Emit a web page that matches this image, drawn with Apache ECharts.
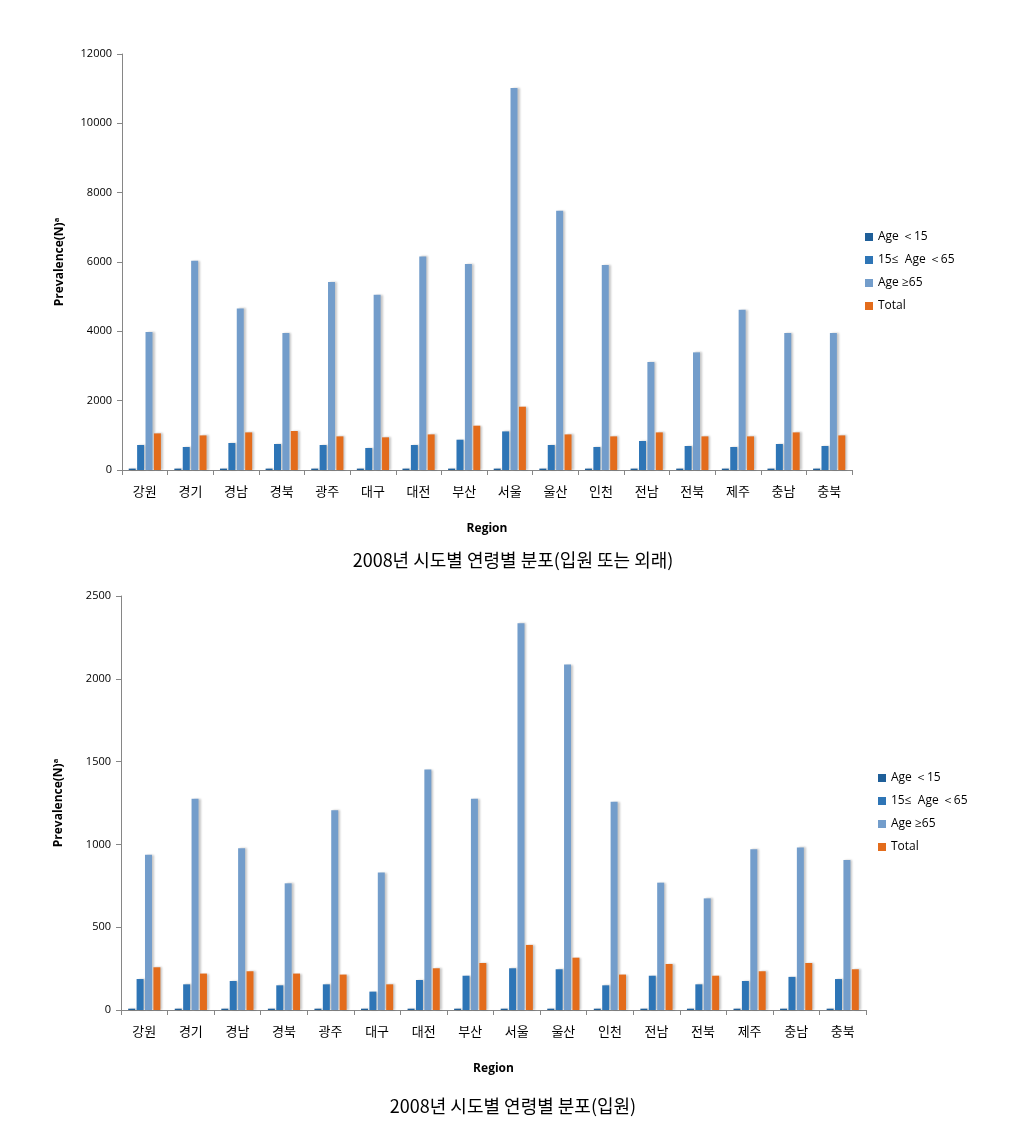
<!DOCTYPE html>
<html>
<head>
<meta charset="utf-8">
<script src="https://cdn.jsdelivr.net/npm/echarts@6/dist/echarts.min.js"></script>
<style>
html,body{margin:0;padding:0;background:#fff;}
#c{width:1011px;height:1138px;}
</style>
</head>
<body>
<div id="c"></div>
<script>
const regions = ['강원','경기','경남','경북','광주','대구','대전','부산','서울','울산','인천','전남','전북','제주','충남','충북'];
const seriesNames = ['Age ＜15','15≤  Age ＜65','Age ≥65','Total'];

// Chart 1: 입원 또는 외래
const top_under15 = [40,40,40,40,40,40,40,40,40,40,40,40,40,40,40,40];
const top_15to65 = [721,663,779,750,721,635,721,874,1113,721,663,837,692,663,750,692];
const top_over65 = [3980,6037,4662,3952,5423,5056,6161,5942,11018,7479,5913,3115,3393,4624,3952,3952];
const top_total = [1056,998,1085,1125,970,942,1027,1278,1826,1027,970,1085,970,970,1085,998];
const topYTicks = {min:0, max:12000, interval:2000};

// Chart 2: 입원
const bot_under15 = [8,8,8,8,8,8,8,8,8,8,8,8,8,8,8,8];
const bot_15to65 = [187,155,175,149,155,111,181,207,252,246,149,207,155,175,200,187];
const bot_over65 = [938,1276,976,765,1206,830,1452,1276,2335,2086,1258,769,674,970,982,906];
const bot_total = [258,220,234,220,214,155,252,284,393,316,214,278,207,234,284,246];
const botYTicks = {min:0, max:2500, interval:500};

const titles = ['2008년 시도별 연령별 분포(입원 또는 외래)','2008년 시도별 연령별 분포(입원)'];
const colors = ['#1f5f99','#2e75b6','#739dcb','#e36c1c'];

const axisGray = '#868686';
const korFont = '"Noto Sans CJK KR", sans-serif';
const latFont = '"Open Sans", "Liberation Sans", sans-serif';

function xAx(gi){
  return {
    type:'category', gridIndex:gi, data:regions,
    name:'Region', nameLocation:'middle', nameGap: 53,
    nameTextStyle:{fontFamily:latFont, fontWeight:'bold', fontSize:12, color:'#000'},
    axisLine:{lineStyle:{color:axisGray}},
    axisTick:{show:true, alignWithLabel:false, length:5, lineStyle:{color:axisGray}},
    axisLabel:{fontFamily:korFont, fontSize:13, color:'#000', margin:15}
  };
}
function yAx(gi, t){
  return {
    type:'value', gridIndex:gi, min:t.min, max:t.max, interval:t.interval,
    name:'Prevalence(N)ª', nameLocation:'middle', nameGap: 56,
    nameTextStyle:{fontFamily:latFont, fontWeight:'bold', fontSize:12, color:'#000'},
    axisLine:{show:true, lineStyle:{color:axisGray}},
    axisTick:{show:true, length:5, lineStyle:{color:axisGray}},
    splitLine:{show:false},
    axisLabel:{fontFamily:latFont, fontSize:11, color:'#000', margin:10, formatter:(v)=>String(v)}
  };
}
function mk(name, data, gi, color){
  return {
    name:name, type:'bar', xAxisIndex:gi, yAxisIndex:gi, data:data,
    barWidth:7, barGap:'20%',
    itemStyle:{color:color, shadowColor:'rgba(0,0,0,0.22)', shadowBlur:2, shadowOffsetX:2, shadowOffsetY:0},
    emphasis:{disabled:true}
  };
}
const topData = [top_under15, top_15to65, top_over65, top_total];
const botData = [bot_under15, bot_15to65, bot_over65, bot_total];
const series = [];
seriesNames.forEach((n,i)=>series.push(mk(n, topData[i], 0, colors[i])));
seriesNames.forEach((n,i)=>series.push(mk(n, botData[i], 1, colors[i])));

const chart = echarts.init(document.getElementById('c'), null, {renderer:'canvas'});
chart.setOption({
  animation:false,
  color:colors,
  title:[
    {text:titles[0], left:508, top:546, textAlign:'center', textStyle:{fontFamily:korFont, fontWeight:'normal', fontSize:18, color:'#000'}},
    {text:titles[1], left:508, top:1092, textAlign:'center', textStyle:{fontFamily:korFont, fontWeight:'normal', fontSize:18, color:'#000'}}
  ],
  grid:[
    {left:122, width:730, top:54, height:416},
    {left:121, width:745, top:596, height:414}
  ],
  xAxis:[xAx(0), xAx(1)],
  yAxis:[yAx(0, topYTicks), yAx(1, botYTicks)],
  legend:[
    {data:seriesNames, orient:'vertical', left:860, top:226, itemWidth:8, itemHeight:8, itemGap:11, icon:'rect',
     textStyle:{fontFamily:latFont, fontSize:12, color:'#000'}, selectedMode:false},
    {data:seriesNames, orient:'vertical', left:873, top:767, itemWidth:8, itemHeight:8, itemGap:11, icon:'rect',
     textStyle:{fontFamily:latFont, fontSize:12, color:'#000'}, selectedMode:false}
  ],
  series:series
});
</script>
</body>
</html>
